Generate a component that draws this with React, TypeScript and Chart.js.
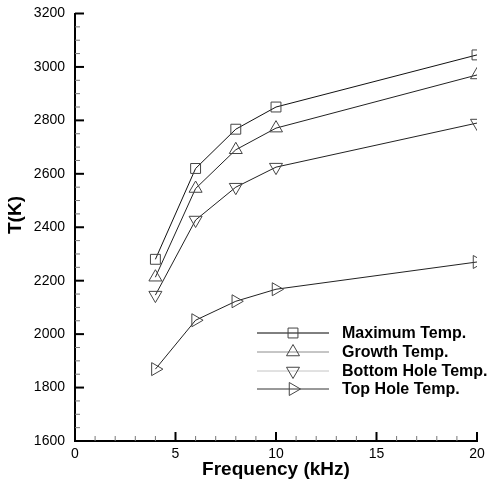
import React, { useEffect, useRef } from "react";
import { Chart, registerables } from "chart.js";
Chart.register(...registerables);

const frequency = [4, 6, 8, 10, 20];
const maxTemp = [2280, 2620, 2767, 2850, 3045];
const growthTemp = [2213, 2545, 2690, 2771, 2970];
const bottomHoleTemp = [2146, 2427, 2550, 2625, 2790];
const topHoleTemp = [1869, 2052, 2123, 2168, 2270];

const seriesNames = ["Maximum Temp.", "Growth Temp.", "Bottom Hole Temp.", "Top Hole Temp."];
const xTicks = [0, 5, 10, 15, 20];
const yTicks = [1600, 1800, 2000, 2200, 2400, 2600, 2800, 3000, 3200];

const lineColors = ["#111111", "#222222", "#222222", "#222222"];
const legendLineColors = ["#000000", "#8c8c8c", "#c4c4c4", "#333333"];
const pointStyles = ["rect", "triangle", "triangle", "triangle"];
const pointRotations = [0, 0, 180, 90];
const pointRadii = [7, 7.5, 7.5, 7.5];

function drawMarker(ctx: CanvasRenderingContext2D, style: string, rot: number, r: number, x: number, y: number) {
  ctx.save();
  ctx.translate(x, y);
  ctx.rotate((rot * Math.PI) / 180);
  ctx.beginPath();
  if (style === "rect") {
    const s = (r * Math.SQRT2) / 2;
    ctx.rect(-s, -s, 2 * s, 2 * s);
  } else {
    for (let i = 0; i < 3; i++) {
      const a = (i * 2 * Math.PI) / 3;
      const px = Math.sin(a) * r;
      const py = -Math.cos(a) * r;
      if (i === 0) ctx.moveTo(px, py);
      else ctx.lineTo(px, py);
    }
    ctx.closePath();
  }
  ctx.stroke();
  ctx.restore();
}

const decorPlugin = {
  id: "decor",
  afterDraw(chart: any) {
    const ctx: CanvasRenderingContext2D = chart.ctx;
    const xs = chart.scales.x;
    const ys = chart.scales.y;
    const ca = chart.chartArea;
    ctx.save();
    for (let v = 1; v <= 20; v += 1) {
      const px = xs.getPixelForValue(v);
      const major = v % 5 === 0;
      ctx.lineWidth = major ? 2 : 1;
      ctx.strokeStyle = major ? "#000" : "#777";
      ctx.beginPath();
      ctx.moveTo(px, ca.bottom);
      ctx.lineTo(px, ca.bottom - (major ? 9 : 5));
      ctx.stroke();
    }
    for (let v = 1650; v <= 3200; v += 50) {
      const py = ys.getPixelForValue(v);
      const major = v % 200 === 0;
      ctx.lineWidth = major ? 2 : 1;
      ctx.strokeStyle = major ? "#000" : "#777";
      ctx.beginPath();
      ctx.moveTo(ca.left, py);
      ctx.lineTo(ca.left + (major ? 9 : 5), py);
      ctx.stroke();
    }
    ctx.fillStyle = "#000";
    ctx.font = "bold 19px 'Liberation Sans', Arial, sans-serif";
    ctx.textAlign = "center";
    ctx.textBaseline = "middle";
    ctx.fillText("Frequency (kHz)", (ca.left + ca.right) / 2, 470);
    ctx.save();
    ctx.translate(16, 215);
    ctx.rotate(-Math.PI / 2);
    ctx.fillText("T(K)", 0, 0);
    ctx.restore();
    const x0 = 257, x1 = 329, tx = 342;
    const rows = [333, 352, 371, 389];
    chart.data.datasets.forEach((ds: any, i: number) => {
      const y = rows[i];
      ctx.strokeStyle = legendLineColors[i];
      ctx.lineWidth = 1;
      ctx.beginPath();
      ctx.moveTo(x0, y);
      ctx.lineTo(x1, y);
      ctx.stroke();
      ctx.strokeStyle = ds.pointBorderColor;
      drawMarker(ctx, ds.pointStyle, ds.pointRotation, ds.pointRadius, (x0 + x1) / 2, y);
      ctx.fillStyle = "#000";
      ctx.font = "bold 16px 'Liberation Sans', Arial, sans-serif";
      ctx.textAlign = "left";
      ctx.textBaseline = "middle";
      ctx.fillText(ds.label, tx, y + 1);
    });
    ctx.restore();
  },
};

export default function App() {
  const ref = useRef<HTMLCanvasElement | null>(null);
  useEffect(() => {
    if (!ref.current) return;
    const series = [maxTemp, growthTemp, bottomHoleTemp, topHoleTemp];
    const chart = new Chart(ref.current, {
      type: "scatter",
      data: {
        datasets: series.map((vals, i) => ({
          label: seriesNames[i],
          data: frequency.map((f, j) => ({ x: f, y: vals[j] })),
          showLine: true,
          borderColor: lineColors[i],
          borderWidth: 1,
          pointStyle: pointStyles[i] as any,
          pointRotation: pointRotations[i],
          pointRadius: pointRadii[i],
          pointBorderColor: "#444",
          pointBorderWidth: 1,
          pointBackgroundColor: "rgba(0,0,0,0)",
        })),
      },
      options: {
        responsive: false,
        animation: false,
        layout: { padding: { top: 13.5, right: 10, left: 0, bottom: 0 } },
        plugins: { legend: { display: false }, tooltip: { enabled: false } },
        scales: {
          x: {
            type: "linear",
            min: 0,
            max: 20,
            afterBuildTicks: (s: any) => {
              s.ticks = xTicks.map((v) => ({ value: v }));
            },
            afterFit: (s: any) => {
              s.height = 43;
              s.paddingLeft = 0;
              s.paddingRight = 0;
            },
            grid: { display: false, drawTicks: false },
            border: { display: true, color: "#000", width: 2 },
            ticks: {
              color: "#000",
              padding: 5,
              font: { family: "'Liberation Sans', Arial, sans-serif", size: 14 },
              maxRotation: 0,
              callback: (v: any) => String(v),
            },
          },
          y: {
            type: "linear",
            min: 1600,
            max: 3200,
            afterBuildTicks: (s: any) => {
              s.ticks = yTicks.map((v) => ({ value: v }));
            },
            afterFit: (s: any) => {
              s.width = 75;
              s.paddingTop = 0;
              s.paddingBottom = 0;
            },
            grid: { display: false, drawTicks: false },
            border: { display: true, color: "#000", width: 2 },
            ticks: {
              color: "#000",
              padding: 10,
              font: { family: "'Liberation Sans', Arial, sans-serif", size: 14 },
              callback: (v: any) => String(v),
            },
          },
        },
      },
      plugins: [decorPlugin],
    });
    return () => chart.destroy();
  }, []);
  return (
    <div style={{ position: "absolute", left: 0, top: 0, width: 487, height: 484, background: "#fff" }}>
      <canvas ref={ref} width={487} height={484} style={{ display: "block" }} />
    </div>
  );
}
